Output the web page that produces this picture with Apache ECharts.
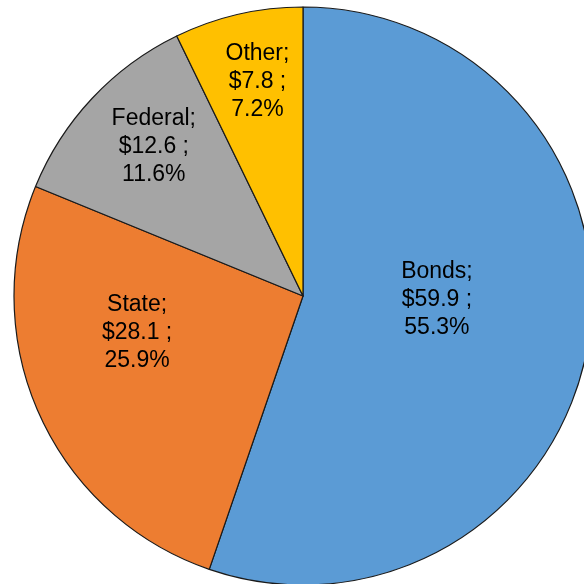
<!DOCTYPE html>
<html><head><meta charset="utf-8">
<script src="https://cdn.jsdelivr.net/npm/echarts@6/dist/echarts.min.js"></script>
<style>html,body{margin:0;padding:0;background:#fff}#c{width:584px;height:584px}</style>
</head><body><div id="c"></div>
<script>
var categories = ['Bonds', 'State', 'Federal', 'Other'];
var amounts = [59.9, 28.1, 12.6, 7.8];
var percents = ['55.3%', '25.9%', '11.6%', '7.2%'];
var colors = ['#5B9BD5', '#ED7D31', '#A5A5A5', '#FFC000'];

var cx = 303, cy = 296, R = 289;
// label placement (degrees, distance from centre)
var labelPolar = [[-1.7, 134], [-167.4, 170], [135, 211], [102, 219]];

var chart = echarts.init(document.getElementById('c'), null, {renderer: 'canvas'});
chart.setOption({
  animation: false,
  series: [{
    type: 'pie',
    center: [cx, cy],
    radius: [0, R],
    startAngle: 90,
    clockwise: true,
    avoidLabelOverlap: false,
    itemStyle: {borderColor: '#1a1a1a', borderWidth: 1.2},
    label: {
      show: true,
      position: 'inside',
      color: '#000',
      fontFamily: 'Liberation Sans, Arial, sans-serif',
      fontSize: 23,
      lineHeight: 28,
      align: 'center',
      formatter: function (p) {
        return categories[p.dataIndex] + ';\n$' + amounts[p.dataIndex].toFixed(1) + ' ;\n' + percents[p.dataIndex];
      }
    },
    labelLine: {show: false},
    emphasis: {disabled: true},
    labelLayout: function (p) {
      var lp = labelPolar[p.dataIndex];
      var a = lp[0] * Math.PI / 180;
      return {x: cx + lp[1] * Math.cos(a), y: cy - lp[1] * Math.sin(a), align: 'center', verticalAlign: 'middle'};
    },
    data: categories.map(function (c, i) {
      return {name: c, value: amounts[i], itemStyle: {color: colors[i]}};
    })
  }]
});
</script></body></html>
